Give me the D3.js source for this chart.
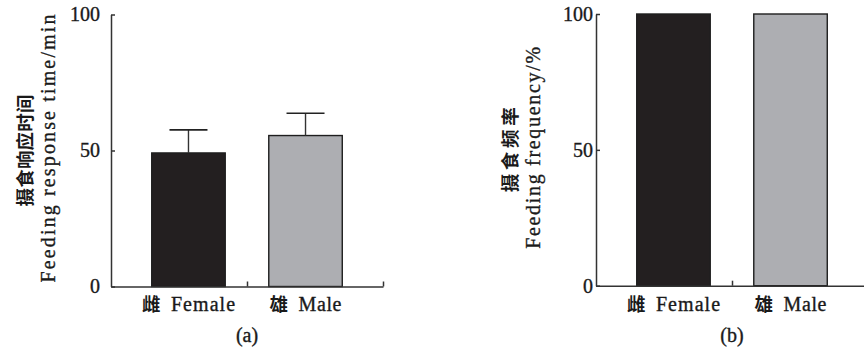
<!DOCTYPE html>
<html>
<head>
<meta charset="utf-8">
<script src="https://cdn.jsdelivr.net/npm/d3@7"></script>
<style>
  html, body { margin: 0; padding: 0; background: #fff; }
  svg { display: block; }
</style>
</head>
<body>
<svg id="chart" width="864" height="348"></svg>
<script>
// Categories (Chinese + English parts of each label)
const catCn = ["雌", "雄"];
const catEn = ["Female", "Male"];

// (a) feeding response time, min (mean and error)
const responseTime = [49.1, 55.5];
const responseErr = [8.5, 8.2];

// (b) feeding frequency, %
const frequency = [100, 100];

// Y axis tick values shared by both panels
const yTicks = [0, 50, 100];

const barFill = ["#231f20", "#adaeb2"];
const latinFont = "'Liberation Serif', 'Times New Roman', serif";
const cjkFont = "'Noto Sans CJK SC', sans-serif";
const numFont = "'Liberation Serif', 'Times New Roman', serif";
const textColor = "#1a1a1a";
const pitch = 10.7;   // advance per Latin character in labels

const svg = d3.select("#chart");

// slightly heavier Latin text
function latin(sel, size) {
  return sel.attr("font-family", latinFont)
    .attr("font-size", size)
    .attr("fill", textColor)
    .attr("stroke", textColor)
    .attr("stroke-width", 0.35);
}

function drawPanel(opts) {
  const { x0, top, bottom, values, errs, titleCn, titleEn, tag,
          tickPad, cnX, enX, cnLen, enLen } = opts;
  const axisLen = 272;
  const g = svg.append("g");

  const y = d3.scaleLinear().domain([0, 100]).range([bottom, top]);
  const x = d3.scaleBand()
    .domain(catEn)
    .range([x0, x0 + axisLen])
    .paddingInner(0.372)
    .paddingOuter(0.348);
  const edge = d3.scaleLinear().domain([0, catEn.length]).range([x0, x0 + axisLen]);
  const cx = d => x(d) + x.bandwidth() / 2;

  // bars
  g.selectAll("rect.bar")
    .data(values)
    .join("rect")
    .attr("class", "bar")
    .attr("x", (d, i) => x(catEn[i]))
    .attr("width", x.bandwidth())
    .attr("y", d => y(d))
    .attr("height", d => y(0) - y(d))
    .attr("fill", (d, i) => barFill[i])
    .attr("stroke", "#1e1e1e")
    .attr("stroke-width", 1.4);

  // error bars (upper half only)
  if (errs) {
    const capW = 38;
    const eb = g.selectAll("g.err").data(values).join("g").attr("class", "err");
    eb.append("line")
      .attr("x1", (d, i) => cx(catEn[i]))
      .attr("x2", (d, i) => cx(catEn[i]))
      .attr("y1", d => y(d))
      .attr("y2", (d, i) => y(d + errs[i]))
      .attr("stroke", "#333")
      .attr("stroke-width", 1.4);
    eb.append("line")
      .attr("x1", (d, i) => cx(catEn[i]) - capW / 2)
      .attr("x2", (d, i) => cx(catEn[i]) + capW / 2)
      .attr("y1", (d, i) => y(d + errs[i]))
      .attr("y2", (d, i) => y(d + errs[i]))
      .attr("stroke", "#222")
      .attr("stroke-width", 1.6);
  }

  // x axis with short inward ticks at band boundaries
  const xAxis = g.append("g")
    .attr("transform", `translate(0,${bottom})`)
    .call(d3.axisBottom(edge).tickValues(d3.range(1, catEn.length + 1))
      .tickSizeInner(-5).tickSizeOuter(0).tickFormat(""));
  xAxis.selectAll("path, line").attr("stroke", "#333").attr("stroke-width", 1.5);

  // y axis with inward ticks
  const yAxis = g.append("g")
    .attr("transform", `translate(${x0},0)`)
    .call(d3.axisLeft(y).tickValues(yTicks).tickSizeInner(-4).tickSizeOuter(0)
      .tickPadding(tickPad));
  yAxis.selectAll("path, line").attr("stroke", "#333").attr("stroke-width", 1.5);
  latin(yAxis.selectAll("text"), 20).attr("font-family", numFont);

  // category labels: Chinese character followed by English name
  catEn.forEach((name, i) => {
    const total = 19 + 10 + name.length * pitch;
    const left = cx(name) - total / 2;
    g.append("text")
      .attr("x", left)
      .attr("y", 311)
      .attr("font-family", cjkFont)
      .attr("font-weight", 700)
      .attr("font-size", 18.5)
      .attr("fill", textColor)
      .text(catCn[i]);
    latin(g.append("text"), 20)
      .attr("x", left + 29)
      .attr("y", 311)
      .attr("textLength", name.length * pitch)
      .attr("lengthAdjust", "spacing")
      .text(name);
  });

  // panel tag
  latin(g.append("text"), 20)
    .attr("x", edge(1))
    .attr("y", 342)
    .attr("text-anchor", "middle")
    .text(tag);

  // y titles (two rotated lines)
  const midY = (top + bottom) / 2;
  g.append("text")
    .attr("transform", `translate(${cnX},${midY}) rotate(-90)`)
    .attr("text-anchor", "middle")
    .attr("font-family", cjkFont)
    .attr("font-weight", 700)
    .attr("font-size", 18.5)
    .attr("textLength", cnLen)
    .attr("lengthAdjust", "spacing")
    .attr("fill", textColor)
    .text(titleCn);
  latin(g.append("text"), 20)
    .attr("transform", `translate(${enX},${midY - 2}) rotate(-90)`)
    .attr("text-anchor", "middle")
    .attr("textLength", enLen)
    .attr("lengthAdjust", "spacing")
    .text(titleEn);
}

drawPanel({
  x0: 111, top: 14.5, bottom: 286.5,
  values: responseTime, errs: responseErr,
  titleCn: "摄食响应时间", titleEn: "Feeding response time/min",
  tag: "(a)", tickPad: 11, cnX: 32, enX: 55, cnLen: 112, enLen: 268
});

drawPanel({
  x0: 596, top: 14, bottom: 285.7,
  values: frequency, errs: null,
  titleCn: "摄食频率", titleEn: "Feeding frequency/%",
  tag: "(b)", tickPad: 3, cnX: 517, enX: 540, cnLen: 85, enLen: 202
});
</script>
</body>
</html>
